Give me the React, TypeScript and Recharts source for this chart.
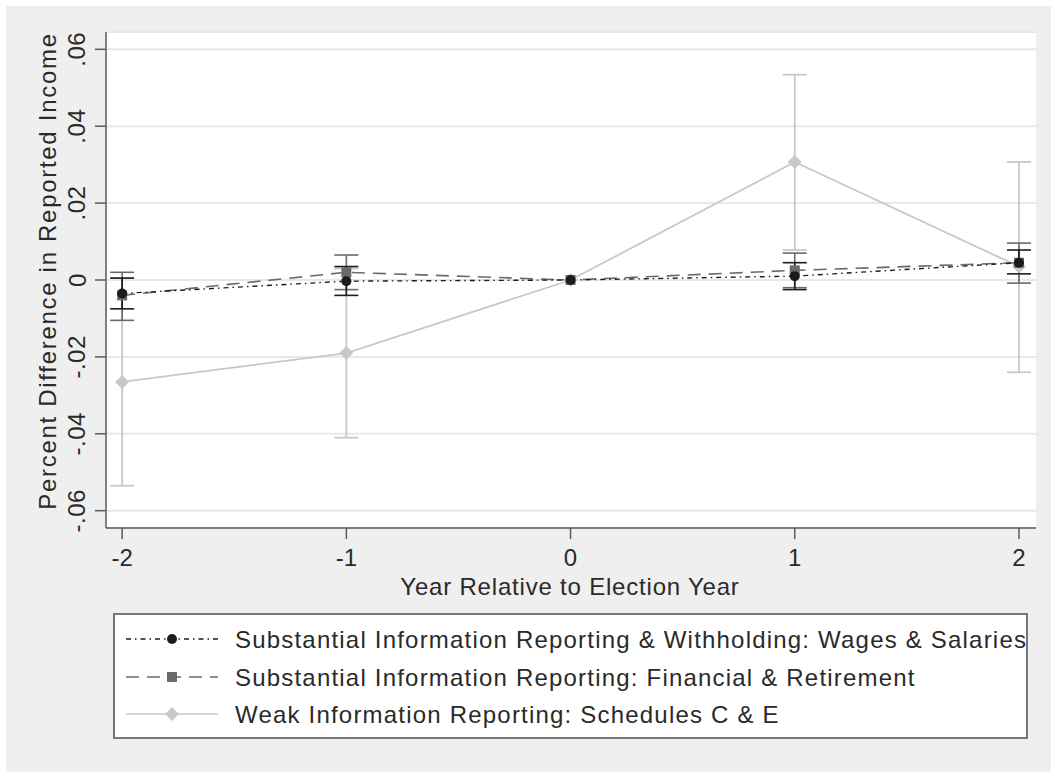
import * as React from 'react';
import { ComposedChart, Line, XAxis, YAxis, CartesianGrid, ErrorBar, Label } from 'recharts';

const years = [-2, -1, 0, 1, 2];
const yTicks = [-0.06, -0.04, -0.02, 0, 0.02, 0.04, 0.06];

// point estimates and confidence bounds per series
const wagesEst = [-0.0035, -0.0003, 0, 0.001, 0.0045];
const wagesLo = [-0.0075, -0.004, 0, -0.0025, 0.0016];
const wagesHi = [0.0005, 0.0035, 0, 0.0045, 0.0078];

const finEst = [-0.004, 0.002, 0, 0.0025, 0.0045];
const finLo = [-0.0105, -0.0025, 0, -0.002, -0.0008];
const finHi = [0.002, 0.0065, 0, 0.007, 0.0096];

const weakEst = [-0.0265, -0.019, 0, 0.0307, 0.0035];
const weakLo = [-0.0535, -0.041, 0, 0.0078, -0.024];
const weakHi = [0.0005, 0.003, 0, 0.0534, 0.0307];

const legendLabels = [
  'Substantial Information Reporting & Withholding: Wages & Salaries',
  'Substantial Information Reporting: Financial & Retirement',
  'Weak Information Reporting: Schedules C & E',
];

const err = (est: number[], lo: number[], hi: number[], i: number) =>
  lo[i] === hi[i] ? null : [est[i] - lo[i], hi[i] - est[i]];

const data = years.map((year, i) => ({
  year,
  wages: wagesEst[i],
  wagesErr: err(wagesEst, wagesLo, wagesHi, i),
  fin: finEst[i],
  finErr: err(finEst, finLo, finHi, i),
  weak: weakEst[i],
  weakErr: err(weakEst, weakLo, weakHi, i),
}));

const FONT = '"Liberation Sans", Arial, Helvetica, sans-serif';
const TEXT = '#2a2a2a';
const C1 = '#1c1c1c';
const C2 = '#6a6a6a';
const C3 = '#c8c8c8';
const DASH1 = '5 4 1.5 4';
const DASH2 = '13 8';

const fmt = (v: number) => {
  if (Math.abs(v) < 1e-9) return '0';
  const s = Math.abs(v).toFixed(2).replace(/^0/, '');
  return (v < 0 ? '-' : '') + s;
};

const Circle = (cx: number, cy: number, c: string) => <circle cx={cx} cy={cy} r={5} fill={c} />;
const Square = (cx: number, cy: number, c: string) => (
  <rect x={cx - 5} y={cy - 5} width={10} height={10} fill={c} />
);
const Diamond = (cx: number, cy: number, c: string) => (
  <polygon points={`${cx},${cy - 7} ${cx + 7},${cy} ${cx},${cy + 7} ${cx - 7},${cy}`} fill={c} />
);

const dot = (fn: typeof Circle, c: string) => (p: any) => (
  <g key={`${c}-${p.index}`}>{fn(p.cx, p.cy, c)}</g>
);

const YTick = (p: any) => (
  <text
    x={77}
    y={p.y}
    transform={`rotate(-90 77 ${p.y})`}
    textAnchor="middle"
    dominantBaseline="central"
    fontFamily={FONT}
    fontSize={24}
    letterSpacing={0.5}
    fill={TEXT}
  >
    {fmt(p.payload.value)}
  </text>
);

const XTick = (p: any) => (
  <text
    x={p.x}
    y={557}
    textAnchor="middle"
    dominantBaseline="central"
    fontFamily={FONT}
    fontSize={24}
    fill={TEXT}
  >
    {p.payload.value}
  </text>
);

function LegendBox() {
  const rows = [
    { c: C1, dash: DASH1, m: Circle },
    { c: C2, dash: DASH2, m: Square },
    { c: C3, dash: undefined, m: Diamond },
  ];
  const ys = [26, 64, 101];
  return (
    <svg
      width={915}
      height={126}
      style={{ position: 'absolute', left: 113, top: 613 }}
    >
      <rect x={1} y={1} width={913} height={124} fill="#fff" stroke="#777" strokeWidth={2} />
      {rows.map((r, i) => (
        <g key={i}>
          <line x1={13} x2={105} y1={ys[i]} y2={ys[i]} stroke={r.c} strokeWidth={1.6} strokeDasharray={r.dash} />
          {r.m(59, ys[i], r.c)}
          <text
            x={122}
            y={ys[i]}
            dominantBaseline="central"
            fontFamily={FONT}
            fontSize={24}
            letterSpacing={1.2}
            fill={TEXT}
          >
            {legendLabels[i]}
          </text>
        </g>
      ))}
    </svg>
  );
}

export default function App() {
  return (
    <div style={{ position: 'absolute', left: 0, top: 0, width: 1051, height: 772, background: '#fff' }}>
      <div style={{ position: 'absolute', left: 6, top: 6, width: 1045, height: 766, background: '#efefef' }} />
      <div style={{ position: 'absolute', left: 0, top: 0 }}>
        <ComposedChart
          width={1051}
          height={772}
          data={data}
          margin={{ top: 32, right: 15, bottom: 204, left: 66 }}
        >
          <CartesianGrid vertical={false} stroke="#e8e8e8" strokeWidth={2} fill="#fff" />
          <XAxis
            type="number"
            dataKey="year"
            domain={[-2.072, 2.076]}
            ticks={years}
            allowDataOverflow
            height={40}
            tickSize={11}
            stroke="#5a5a5a"
            strokeWidth={1.5}
            tick={XTick}
          >
            <Label
              content={() => (
                <text x={570} y={586} textAnchor="middle" dominantBaseline="central" fontFamily={FONT} fontSize={24} letterSpacing={0.8} fill={TEXT}>
                  Year Relative to Election Year
                </text>
              )}
            />
          </XAxis>
          <YAxis
            type="number"
            domain={[-0.0645, 0.0645]}
            ticks={yTicks}
            allowDataOverflow
            width={40}
            tickSize={11}
            stroke="#5a5a5a"
            strokeWidth={1.5}
            tick={YTick}
          >
            <Label
              content={() => (
                <text x={47} y={271} transform="rotate(-90 47 271)" textAnchor="middle" dominantBaseline="central" fontFamily={FONT} fontSize={24} letterSpacing={1.7} fill={TEXT}>
                  Percent Difference in Reported Income
                </text>
              )}
            />
          </YAxis>
          <Line
            dataKey="weak"
            stroke={C3}
            strokeWidth={1.8}
            dot={dot(Diamond, C3)}
            activeDot={false}
            isAnimationActive={false}
          >
            <ErrorBar dataKey="weakErr" direction="y" width={12} stroke={C3} strokeWidth={1.8} />
          </Line>
          <Line
            dataKey="fin"
            stroke={C2}
            strokeWidth={1.6}
            strokeDasharray={DASH2}
            dot={dot(Square, C2)}
            activeDot={false}
            isAnimationActive={false}
          >
            <ErrorBar dataKey="finErr" direction="y" width={12} stroke={C2} strokeWidth={1.6} />
          </Line>
          <Line
            dataKey="wages"
            stroke={C1}
            strokeWidth={1.4}
            strokeDasharray={DASH1}
            dot={dot(Circle, C1)}
            activeDot={false}
            isAnimationActive={false}
          >
            <ErrorBar dataKey="wagesErr" direction="y" width={12} stroke={C1} strokeWidth={1.6} />
          </Line>
        </ComposedChart>
      </div>
      <LegendBox />
    </div>
  );
}
